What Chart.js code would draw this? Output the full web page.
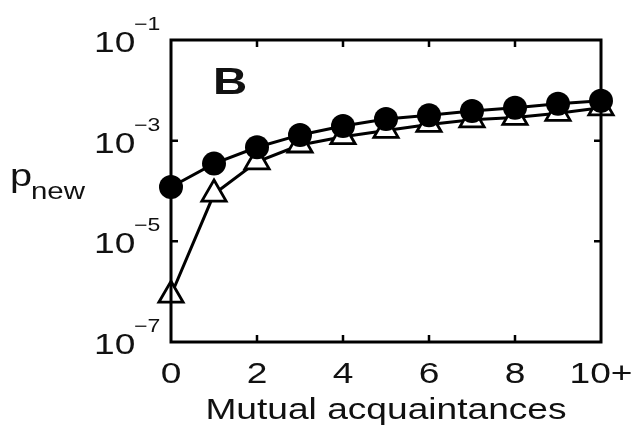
<!DOCTYPE html>
<html lang="en">
<head>
<meta charset="UTF-8">
<title>p_new vs mutual acquaintances</title>
<script src="https://cdn.jsdelivr.net/npm/chart.js"></script>
<style>
    body { margin: 0; background: #fff; }
    .chart-container { position: relative; width: 633px; height: 430px; }
</style>
</head>
<body>
<div class="chart-container">
    <canvas id="pChart"></canvas>
</div>
<script>
    // values (log scale)
    const xValues = [0, 1, 2, 3, 4, 5, 6, 7, 8, 9, 10];
    const xTickValues = [0, 2, 4, 6, 8, 10];
    const xTickLabels = ['0', '2', '4', '6', '8', '10+'];
    const yTickExponents = [-1, -3, -5, -7];
    const circleValues = [1.2e-4, 3.5e-4, 7.4e-4, 1.3e-3, 1.95e-3, 2.7e-3, 3.2e-3, 3.9e-3, 4.5e-3, 5.4e-3, 6.2e-3];
    const triangleValues = [8.5e-7, 8.7e-5, 3.8e-4, 8.2e-4, 1.2e-3, 1.6e-3, 2.1e-3, 2.6e-3, 2.9e-3, 3.5e-3, 4.5e-3];

    const SX = 1.28; // the original figure is stretched sideways
    const TEXT = '#111';

    function txt(ctx, s, x, y, size, align, bold) {
        ctx.save();
        ctx.translate(x, y);
        ctx.scale(SX, 1);
        ctx.font = (bold ? 'bold ' : '') + size + 'px "Liberation Sans", Arial, sans-serif';
        ctx.fillStyle = TEXT;
        ctx.textAlign = align;
        ctx.textBaseline = 'alphabetic';
        ctx.fillText(s, 0, 0);
        ctx.restore();
    }

    // frame, inward ticks and all the labels
    const framePlugin = {
        id: 'frame',
        afterDatasetsDraw(chart) {
            const ctx = chart.ctx;
            const a = chart.chartArea;
            const xs = chart.scales.x, ys = chart.scales.y;
            ctx.save();
            ctx.strokeStyle = '#000';
            ctx.lineWidth = 3;
            ctx.strokeRect(a.left, a.top, a.right - a.left, a.bottom - a.top);
            ctx.lineWidth = 2.5;
            ctx.beginPath();
            xTickValues.forEach(v => {
                if (v === 0 || v === 10) return;
                const px = xs.getPixelForValue(v);
                ctx.moveTo(px, a.bottom); ctx.lineTo(px, a.bottom - 7);
                ctx.moveTo(px, a.top); ctx.lineTo(px, a.top + 7);
            });
            yTickExponents.forEach(e => {
                if (e === -1 || e === -7) return;
                const py = ys.getPixelForValue(Math.pow(10, e));
                ctx.moveTo(a.left, py); ctx.lineTo(a.left + 7, py);
                ctx.moveTo(a.right, py); ctx.lineTo(a.right - 7, py);
            });
            ctx.stroke();
            ctx.restore();

            // x tick labels
            xTickValues.forEach((v, i) => {
                txt(ctx, xTickLabels[i], xs.getPixelForValue(v), a.bottom + 41, 29, 'center');
            });
            // y tick labels 10^e
            yTickExponents.forEach(e => {
                const py = ys.getPixelForValue(Math.pow(10, e));
                txt(ctx, '10', 94, py + 12, 29, 'left');
                txt(ctx, '\u2212' + Math.abs(e), 134, py - 10, 18, 'left');
            });
            // axis titles
            txt(ctx, 'Mutual acquaintances', (a.left + a.right) / 2, 419, 29, 'center');
            txt(ctx, 'p', 10, 186, 31, 'left');
            txt(ctx, 'new', 31, 199, 23, 'left');
            // panel letter
            txt(ctx, 'B', 213, 94, 37, 'left', true);
        }
    };

    const ctx = document.getElementById('pChart').getContext('2d');
    new Chart(ctx, {
        type: 'line',
        data: {
            labels: xValues,
            datasets: [{
                label: 'circles',
                data: xValues.map((x, i) => ({ x: x, y: circleValues[i] })),
                borderColor: '#000',
                borderWidth: 3,
                backgroundColor: '#000',
                pointStyle: 'circle',
                pointRadius: 12,
                pointBorderWidth: 0,
                pointBackgroundColor: '#000',
                tension: 0,
                clip: false
            }, {
                label: 'triangles',
                data: xValues.map((x, i) => ({ x: x, y: triangleValues[i] })),
                borderColor: '#000',
                borderWidth: 3,
                pointStyle: 'triangle',
                pointRadius: 14,
                pointBorderWidth: 2.8,
                pointBorderColor: '#000',
                pointBackgroundColor: '#fff',
                tension: 0,
                clip: false
            }]
        },
        options: {
            responsive: true,
            maintainAspectRatio: false,
            animation: false,
            events: [],
            layout: { padding: { left: 171, right: 32, top: 40, bottom: 88 } },
            scales: {
                x: { type: 'linear', min: 0, max: 10, display: false },
                y: { type: 'logarithmic', min: 1e-7, max: 1e-1, display: false }
            },
            plugins: {
                legend: { display: false },
                tooltip: { enabled: false }
            }
        },
        plugins: [framePlugin]
    });
</script>
</body>
</html>
